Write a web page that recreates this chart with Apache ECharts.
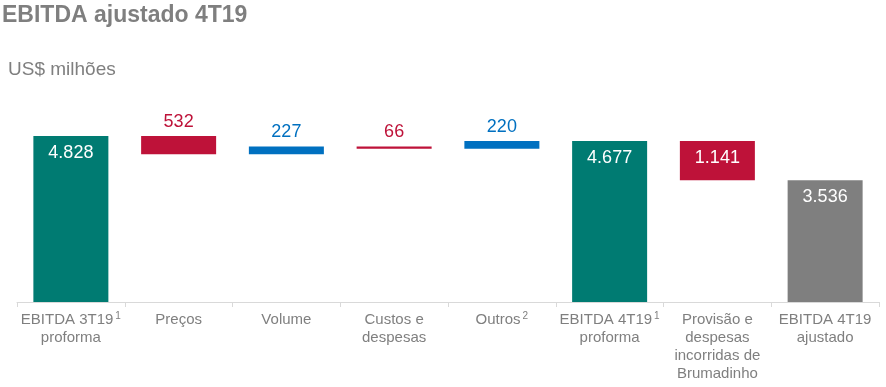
<!DOCTYPE html>
<html>
<head>
<meta charset="utf-8">
<script src="https://cdn.jsdelivr.net/npm/echarts@6/dist/echarts.min.js"></script>
<style>html,body{margin:0;padding:0;background:#fff}#c{width:886px;height:387px}</style>
</head>
<body>
<div id="c"></div>
<script>
const categories = [
  '{a|EBITDA 3T19}{sup|1}\n{a|proforma}',
  '{a|Preços}',
  '{a|Volume}',
  '{a|Custos e}\n{a|despesas}',
  '{a|Outros}{sup|2}',
  '{a|EBITDA 4T19}{sup|1}\n{a|proforma}',
  '{a|Provisão e}\n{a|despesas}\n{a|incorridas de}\n{a|Brumadinho}',
  '{a|EBITDA 4T19}\n{a|ajustado}'
];
const values = [4828, -532, 227, -66, 220, 4677, -1141, 3536];
const isTotal = [true, false, false, false, false, true, false, true];
const labelInside = [true, false, false, false, false, true, true, true];
const colors = ['#007B72', '#BE1239', '#0070C0', '#BE1239', '#0070C0', '#007B72', '#BE1239', '#7F7F7F'];

function fmt(v) {
  const s = String(Math.abs(v));
  return s.replace(/\B(?=(\d{3})+(?!\d))/g, '.');
}

const baseData = [];
const barData = [];
let running = 0;
values.forEach((v, i) => {
  if (isTotal[i]) {
    running = v;
    baseData.push(0);
    barData.push(v);
  } else {
    const start = running;
    running = running + v;
    baseData.push(Math.min(start, running));
    barData.push(Math.abs(v));
  }
});

const chart = echarts.init(document.getElementById('c'));
const FONT = 'Liberation Sans, Arial, sans-serif';
chart.setOption({
  animation: false,
  title: [
    { text: 'EBITDA ajustado 4T19', left: 2, top: 4, padding: 0,
      textStyle: { fontFamily: FONT, fontSize: 23, fontWeight: 'bold', color: '#7F7F7F' } },
    { text: 'US$ milhões', left: 8, top: 60, padding: 0,
      textStyle: { fontFamily: FONT, fontSize: 19, fontWeight: 'normal', color: '#7F7F7F' } }
  ],
  grid: { left: 17, right: 7, top: 130, bottom: 85, containLabel: false },
  xAxis: {
    type: 'category',
    data: categories,
    axisLine: { lineStyle: { color: '#D9D9D9', width: 1 } },
    axisTick: { show: true, length: 5, lineStyle: { color: '#D9D9D9' } },
    axisLabel: {
      interval: 0, margin: 9,
      rich: {
        a: { fontFamily: FONT, fontSize: 15, color: '#7F7F7F', lineHeight: 18 },
        sup: { fontFamily: FONT, fontSize: 10, color: '#7F7F7F', lineHeight: 18, verticalAlign: 'top', padding: [0, 0, 12, 2] }
      }
    }
  },
  yAxis: {
    type: 'value', min: 0, max: 5000, show: false,
    splitLine: { show: false }
  },
  series: [
    {
      type: 'bar', stack: 'w', data: baseData,
      itemStyle: { color: 'transparent' }, barWidth: 75, silent: true
    },
    {
      type: 'bar', stack: 'w', barWidth: 75,
      data: barData.map((v, i) => ({
        value: v,
        itemStyle: { color: colors[i] },
        label: labelInside[i]
          ? { show: true, position: 'insideTop', distance: 8, color: '#FFFFFF', formatter: fmt(values[i]) }
          : { show: true, position: 'top', distance: 5, color: colors[i], formatter: fmt(values[i]) }
      })),
      label: { fontFamily: FONT, fontSize: 18 }
    }
  ]
});
</script>
</body>
</html>
